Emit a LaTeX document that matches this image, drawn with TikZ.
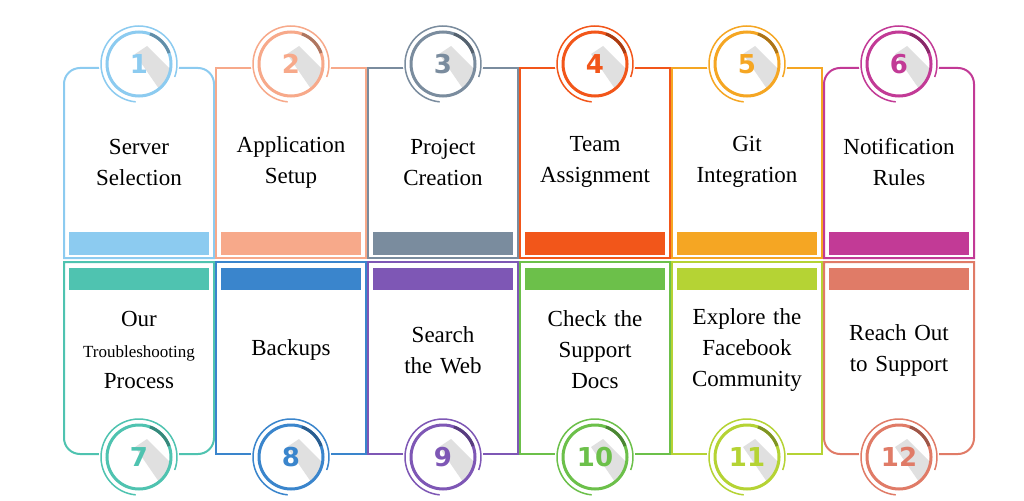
\documentclass[tikz,border=0pt]{standalone}
\usepackage{fontspec}
\setmainfont{Liberation Serif}
\newfontfamily\numfont{DejaVu Sans}
\definecolor{cA}{HTML}{8CCBF0}
\definecolor{cB}{HTML}{F7A98A}
\definecolor{cC}{HTML}{7A8C9E}
\definecolor{cD}{HTML}{F2561A}
\definecolor{cE}{HTML}{F5A623}
\definecolor{cF}{HTML}{C23A96}
\definecolor{cG}{HTML}{4FC3B0}
\definecolor{cH}{HTML}{3A85CC}
\definecolor{cI}{HTML}{7E57B5}
\definecolor{cJ}{HTML}{6CC04A}
\definecolor{cK}{HTML}{B5D334}
\definecolor{cL}{HTML}{E07B67}
\begin{document}
\begin{tikzpicture}
  [x=1pt, y=-1pt,
  panel/.style={draw=#1, line width=2pt},
  bar/.style={fill=#1, draw=none},
  label/.style={font=\fontsize{23}{31}\selectfont, align=center, text width=145pt},
  numtxt/.style={font=\numfont\bfseries\fontsize{26}{26}\selectfont, text=#1}]
  \useasboundingbox (0,0) rectangle (1024,500);
  % top row
  \foreach \i/\c/\t in {0/cA/{Server\\Selection}, 1/cB/{Application\\Setup},
      2/cC/{Project\\Creation}, 3/cD/{Team\\Assignment},
      4/cE/{Git\\Integration}, 5/cF/{Notification\\Rules}} {
    \pgfmathsetmacro{\xl}{64+152*\i}
    \pgfmathsetmacro{\xr}{\xl+150}
    \pgfmathsetmacro{\xm}{\xl+75}
    \ifnum\i=0
      \draw [panel=\c, rounded corners=16pt] (\xl,258) -- (\xl,68) -- (\xr,68) [sharp corners] -- (\xr,258) -- cycle;
    \else\ifnum\i=5
      \draw [panel=\c, rounded corners=16pt] (\xr,258) -- (\xr,68) -- (\xl,68) [sharp corners] -- (\xl,258) -- cycle;
    \else
      \draw [panel=\c] (\xl,68) rectangle (\xr,258);
    \fi\fi
    \fill [bar=\c] (\xl+5,232) rectangle (\xr-5,255);
    \node [label] (top\i) at (\xm,162) {\t};
    % badge
    \coordinate (ct\i) at (\xm,64);
    \fill [white] (ct\i) circle (40);
    \begin{scope}
      \clip (ct\i) circle (32);
      \fill [black!12] (\xm-4,54) -- (\xm+8,46) -- (\xm+60,98) -- (\xm+40,118) -- cycle;
    \end{scope}
    \draw [\c, line width=3pt] (ct\i) circle (32);
    \draw [\c, line width=1.5pt] (ct\i) ++(95:38) arc (95:380:38);
    \draw [\c!70!black, line width=3pt] (ct\i) ++(-20:32) arc (-20:-70:32);
    \node [numtxt=\c] (nt\i) at (ct\i) {\the\numexpr\i+1\relax};
  }
  % bottom row
  \foreach \i/\c/\t in {0/cG/{Our\\{\fontsize{17}{22}\selectfont Troubleshooting}\\Process},
      1/cH/{Backups}, 2/cI/{Search\\the Web}, 3/cJ/{Check the\\Support\\Docs},
      4/cK/{Explore the\\Facebook\\Community}, 5/cL/{Reach Out\\to Support}} {
    \pgfmathsetmacro{\xl}{64+152*\i}
    \pgfmathsetmacro{\xr}{\xl+150}
    \pgfmathsetmacro{\xm}{\xl+75}
    \ifnum\i=0
      \draw [panel=\c, rounded corners=16pt] (\xl,262) -- (\xl,454) -- (\xr,454) [sharp corners] -- (\xr,262) -- cycle;
    \else\ifnum\i=5
      \draw [panel=\c, rounded corners=16pt] (\xr,262) -- (\xr,454) -- (\xl,454) [sharp corners] -- (\xl,262) -- cycle;
    \else
      \draw [panel=\c] (\xl,262) rectangle (\xr,454);
    \fi\fi
    \fill [bar=\c] (\xl+5,268) rectangle (\xr-5,290);
    \node [label] (bot\i) at (\xm,350) {\t};
    % badge
    \coordinate (cb\i) at (\xm,457);
    \fill [white] (cb\i) circle (40);
    \begin{scope}
      \clip (cb\i) circle (32);
      \fill [black!12] (\xm-4,447) -- (\xm+8,439) -- (\xm+60,491) -- (\xm+40,511) -- cycle;
    \end{scope}
    \draw [\c, line width=3pt] (cb\i) circle (32);
    \draw [\c, line width=1.5pt] (cb\i) ++(95:38) arc (95:380:38);
    \draw [\c!70!black, line width=3pt] (cb\i) ++(-20:32) arc (-20:-70:32);
    \node [numtxt=\c] (nb\i) at (cb\i) {\the\numexpr\i+7\relax};
  }
\end{tikzpicture}
\end{document}
